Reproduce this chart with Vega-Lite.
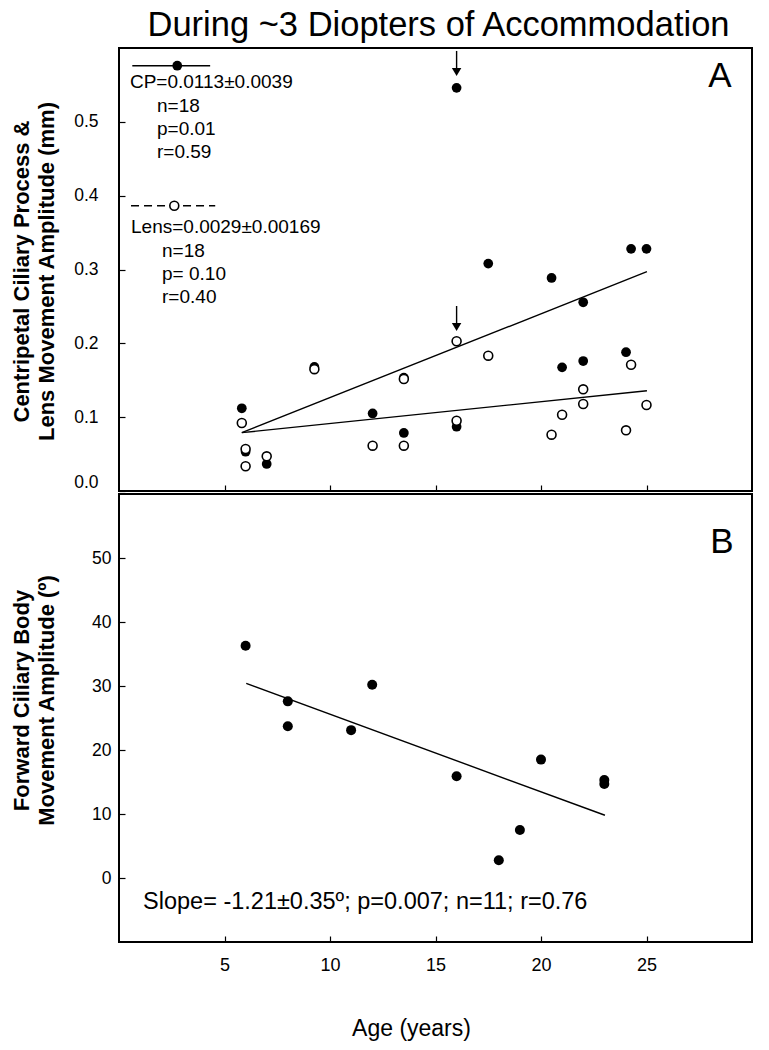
{
  "$schema": "https://vega.github.io/schema/vega-lite/v6.json",
  "background": "white",
  "padding": {"left": 8, "top": 6, "right": 5, "bottom": 5},
  "spacing": 0,
  "config": {
    "font": "Liberation Sans",
    "view": {"stroke": "black", "strokeWidth": 2},
    "axis": {
      "grid": false,
      "domain": false,
      "tickColor": "black",
      "tickSize": -6,
      "tickWidth": 1.2,
      "labelColor": "black",
      "labelFont": "Liberation Sans",
      "labelFontSize": 17,
      "titleColor": "black",
      "titleFont": "Liberation Sans"
    }
  },
  "datasets": {
    "cp": [
      {"age": 5.82, "amp": 0.112}, {"age": 6.0, "amp": 0.0532}, {"age": 7.0, "amp": 0.0366},
      {"age": 9.26, "amp": 0.168}, {"age": 12.02, "amp": 0.105}, {"age": 13.5, "amp": 0.1535},
      {"age": 13.5, "amp": 0.0786}, {"age": 16.0, "amp": 0.0871}, {"age": 16.0, "amp": 0.546},
      {"age": 17.5, "amp": 0.308}, {"age": 20.5, "amp": 0.2885}, {"age": 21.0, "amp": 0.1675},
      {"age": 22.0, "amp": 0.2556}, {"age": 22.0, "amp": 0.176}, {"age": 24.03, "amp": 0.188},
      {"age": 24.27, "amp": 0.328}, {"age": 25.0, "amp": 0.328},
      {"age": 2.76, "amp": 0.576}
    ],
    "lens": [
      {"age": 5.82, "amp": 0.0921}, {"age": 6.0, "amp": 0.0569}, {"age": 6.0, "amp": 0.0335},
      {"age": 7.0, "amp": 0.047}, {"age": 9.26, "amp": 0.165}, {"age": 12.02, "amp": 0.0614},
      {"age": 13.5, "amp": 0.1517}, {"age": 13.5, "amp": 0.0614}, {"age": 16.0, "amp": 0.2028},
      {"age": 16.0, "amp": 0.0952}, {"age": 17.5, "amp": 0.1833}, {"age": 20.5, "amp": 0.0763},
      {"age": 21.0, "amp": 0.1033}, {"age": 22.0, "amp": 0.1377}, {"age": 22.0, "amp": 0.1178},
      {"age": 24.03, "amp": 0.0822}, {"age": 24.27, "amp": 0.171}, {"age": 25.0, "amp": 0.1165},
      {"age": 2.62, "amp": 0.3864}
    ],
    "fitA": [
      {"series": "CP", "age": 5.82, "amp": 0.079}, {"series": "CP", "age": 25.02, "amp": 0.297},
      {"series": "Lens", "age": 5.82, "amp": 0.079}, {"series": "Lens", "age": 25.02, "amp": 0.1358}
    ],
    "keyA": [
      {"series": "CP", "age": 0.63, "amp": 0.576}, {"series": "CP", "age": 4.32, "amp": 0.576},
      {"series": "Lens", "age": 0.57, "amp": 0.3864}, {"series": "Lens", "age": 4.56, "amp": 0.3864}
    ],
    "arrowsA": [
      {"age": 16.0, "amp": 0.596, "amp2": 0.5675},
      {"age": 16.0, "amp": 0.2506, "amp2": 0.2221}
    ],
    "textA": [
      {"age": 0.52, "amp": 0.554, "label": "CP=0.0113±0.0039"},
      {"age": 1.8, "amp": 0.522, "label": "n=18"},
      {"age": 1.8, "amp": 0.49, "label": "p=0.01"},
      {"age": 1.8, "amp": 0.459, "label": "r=0.59"},
      {"age": 0.57, "amp": 0.3576, "label": "Lens=0.0029±0.00169"},
      {"age": 2.04, "amp": 0.3255, "label": "n=18"},
      {"age": 2.04, "amp": 0.2939, "label": "p= 0.10"},
      {"age": 2.04, "amp": 0.2628, "label": "r=0.40"}
    ],
    "letterA": [{"age": 28.48, "amp": 0.5614, "label": "A"}],
    "cb": [
      {"age": 6, "amp": 36.3}, {"age": 8, "amp": 27.6}, {"age": 8, "amp": 23.7},
      {"age": 11, "amp": 23.1}, {"age": 12, "amp": 30.2}, {"age": 16, "amp": 15.9},
      {"age": 18, "amp": 2.77}, {"age": 19, "amp": 7.5}, {"age": 20, "amp": 18.5},
      {"age": 23, "amp": 15.3}, {"age": 23, "amp": 14.7}
    ],
    "fitB": [{"age": 6.03, "amp": 30.4}, {"age": 23.03, "amp": 9.8}],
    "textB": [
      {"age": 1.14, "amp": -3.75, "label": "Slope= -1.21±0.35º; p=0.007; n=11; r=0.76"}
    ],
    "letterB": [{"age": 28.58, "amp": 52.5, "label": "B"}]
  },
  "vconcat": [
    {
      "width": 633,
      "height": 443,
      "title": {
        "text": "During ~3 Diopters of Accommodation",
        "fontSize": 34.5,
        "fontWeight": "normal",
        "font": "Liberation Sans",
        "color": "black",
        "anchor": "middle",
        "frame": "group",
        "baseline": "alphabetic",
        "offset": -22,
        "dx": 3
      },
      "encoding": {
        "x": {
          "field": "age", "type": "quantitative",
          "scale": {"domain": [0, 30], "nice": false, "zero": false},
          "axis": {"values": [5, 10, 15, 20, 25], "labels": false, "title": null}
        },
        "y": {
          "field": "amp", "type": "quantitative",
          "scale": {"domain": [0, 0.6], "nice": false},
          "axis": {
            "values": [0, 0.1, 0.2, 0.3, 0.4, 0.5],
            "format": ".1f",
            "labelPadding": 27,
            "labelFontSize": 17.5,
            "labelFlush": true,
            "encode": {"labels": {"update": {"dy": {"value": -3}}}},
            "title": ["Centripetal Ciliary Process &", "Lens Movement Amplitude (mm)"],
            "titleFontSize": 22,
            "titleFontWeight": "bold",
            "titleLineHeight": 25,
            "titleAngle": -90,
            "titleAlign": "center",
            "titleBaseline": "top",
            "titleX": -108,
            "titleY": 223
          }
        }
      },
      "layer": [
        {
          "data": {"name": "fitA"},
          "mark": {"type": "line", "color": "black", "strokeWidth": 1.4},
          "encoding": {"detail": {"field": "series"}}
        },
        {
          "data": {"name": "keyA"},
          "transform": [{"filter": "datum.series === 'CP'"}],
          "mark": {"type": "line", "color": "black", "strokeWidth": 1.4},
          "encoding": {}
        },
        {
          "data": {"name": "keyA"},
          "transform": [{"filter": "datum.series === 'Lens'"}],
          "mark": {"type": "line", "color": "black", "strokeWidth": 1.4, "strokeDash": [8, 5]},
          "encoding": {}
        },
        {
          "data": {"name": "cp"},
          "mark": {"type": "point", "shape": "circle", "filled": true, "color": "black", "size": 95, "opacity": 1}
        },
        {
          "data": {"name": "lens"},
          "mark": {"type": "point", "shape": "circle", "filled": true, "fill": "white", "stroke": "black", "strokeWidth": 1.6, "size": 80, "opacity": 1}
        },
        {
          "data": {"name": "arrowsA"},
          "mark": {"type": "rule", "color": "black", "strokeWidth": 1.4},
          "encoding": {"y2": {"field": "amp2"}}
        },
        {
          "data": {"name": "arrowsA"},
          "mark": {"type": "point", "shape": "triangle-down", "filled": true, "color": "black", "size": 90, "opacity": 1},
          "encoding": {"y": {"field": "amp2", "type": "quantitative"}}
        },
        {
          "data": {"name": "textA"},
          "mark": {"type": "text", "align": "left", "baseline": "middle", "fontSize": 19, "color": "black", "font": "Liberation Sans"},
          "encoding": {"text": {"field": "label"}}
        },
        {
          "data": {"name": "letterA"},
          "mark": {"type": "text", "align": "center", "baseline": "middle", "fontSize": 35, "color": "black", "font": "Liberation Sans"},
          "encoding": {"text": {"field": "label"}}
        }
      ]
    },
    {
      "width": 633,
      "height": 448,
      "encoding": {
        "x": {
          "field": "age", "type": "quantitative",
          "scale": {"domain": [0, 30], "nice": false, "zero": false},
          "axis": {
            "values": [5, 10, 15, 20, 25],
            "labelFontSize": 18,
            "labelPadding": 20,
            "title": "Age (years)",
            "titleFontSize": 23,
            "titleFontWeight": "normal",
            "titleAlign": "center",
            "titleBaseline": "middle",
            "titleX": 292,
            "titleY": 86
          }
        },
        "y": {
          "field": "amp", "type": "quantitative",
          "scale": {"domain": [-10, 60], "nice": false, "zero": false},
          "axis": {
            "values": [0, 10, 20, 30, 40, 50],
            "labelPadding": 14,
            "labelFontSize": 17.5,
            "title": ["Forward Ciliary Body", "Movement Amplitude (º)"],
            "titleFontSize": 22,
            "titleFontWeight": "bold",
            "titleLineHeight": 25,
            "titleAngle": -90,
            "titleAlign": "center",
            "titleBaseline": "top",
            "titleX": -108,
            "titleY": 206
          }
        }
      },
      "layer": [
        {
          "data": {"name": "fitB"},
          "mark": {"type": "line", "color": "black", "strokeWidth": 1.4},
          "encoding": {}
        },
        {
          "data": {"name": "cb"},
          "mark": {"type": "point", "shape": "circle", "filled": true, "color": "black", "size": 100, "opacity": 1}
        },
        {
          "data": {"name": "textB"},
          "mark": {"type": "text", "align": "left", "baseline": "middle", "fontSize": 23.5, "color": "black", "font": "Liberation Sans"},
          "encoding": {"text": {"field": "label"}}
        },
        {
          "data": {"name": "letterB"},
          "mark": {"type": "text", "align": "center", "baseline": "middle", "fontSize": 35, "color": "black", "font": "Liberation Sans"},
          "encoding": {"text": {"field": "label"}}
        }
      ]
    }
  ]
}
